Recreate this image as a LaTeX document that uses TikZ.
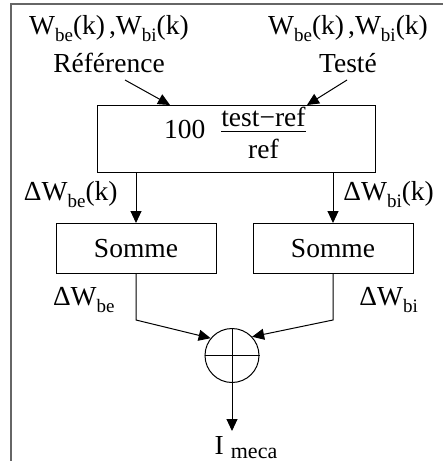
\documentclass[tikz,border=0pt]{standalone}
\usepackage{amsmath}
\usepackage{fontspec}
\setmainfont{Liberation Serif}
\usetikzlibrary{arrows.meta,positioning}

\newcommand{\lo}[1]{\raisebox{-3.5pt}{\fontsize{9.5}{11}\selectfont #1}}

\begin{document}
\begin{tikzpicture}[
    x=0.5pt, y=-0.5pt,
    font=\fontsize{13.75}{19}\selectfont,
    block/.style={rectangle, draw, line width=0.5pt, inner sep=0pt},
    calcbox/.style={block, minimum width=139pt, minimum height=33.5pt},
    sumbox/.style={block, minimum width=80pt, minimum height=25pt},
    adder/.style={circle, draw, line width=0.5pt, minimum size=27pt, inner sep=0pt},
    lbl/.style={inner sep=0pt, align=center},
    arrow/.style={-{Triangle[length=6pt, width=5.5pt]}, line width=0.5pt},
    frame/.style={draw=black!60, line width=0.75pt}
]
    \useasboundingbox (0,0) rectangle (443,461);
    \draw[frame] (11,461) |- (443,4);

    \node[calcbox] (calc) at (236,139) {100\hspace{6.8pt}$\genfrac{}{}{0.6pt}{0}{\raisebox{-3.8pt}[0pt][0pt]{test−ref}}{\text{ref}}$};

    \node[lbl, above=16pt of calc, xshift=-63.5pt] (refin) {W\lo{be}(k)\kern2pt,W\lo{bi}(k)\\Référence};
    \node[lbl, above=16pt of calc, xshift=56pt] (testin) {W\lo{be}(k)\kern2pt,W\lo{bi}(k)\\Testé};

    \node[sumbox, below=25pt of calc, xshift=-50pt] (sumbe) {Somme};
    \node[sumbox, below=25pt of calc, xshift=48.5pt] (sumbi) {Somme};

    \node[lbl, left=9pt of sumbe.north, yshift=14pt] (dbek) {ΔW\lo{be}(k)};
    \node[lbl, right=5pt of sumbi.north, yshift=14pt] (dbik) {ΔW\lo{bi}(k)};
    \node[lbl, left=10.5pt of sumbe.south, yshift=-13pt] (dbe) {ΔW\lo{be}};
    \node[lbl, right=13pt of sumbi.south, yshift=-13pt] (dbi) {ΔW\lo{bi}};

    \node[adder, below=77.5pt of calc, xshift=-2pt] (adder) {};
    \draw (adder.north) -- (adder.south);
    \draw (adder.west) -- (adder.east);

    \node[lbl, below=26.5pt of adder, xshift=7pt] (imeca) {I\kern3.5pt\raisebox{-2pt}{\fontsize{11}{13}\selectfont meca}};

    \draw[arrow] ([xshift=8pt, yshift=-3.5pt]refin.south) -- ([xshift=-33pt]calc.north);
    \draw[arrow] ([xshift=-0.5pt, yshift=-3.5pt]testin.south) -- ([xshift=35.5pt]calc.north);
    \draw[arrow] (sumbe.north |- calc.south) -- (sumbe.north);
    \draw[arrow] (sumbi.north |- calc.south) -- (sumbi.north);
    \draw[arrow] (sumbe.south) -- ++(0,-23pt) -- (adder.141);
    \draw[arrow] (sumbi.south) -- ++(0,-23pt) -- (adder.43);
    \draw[arrow] (adder.south) -- ([yshift=2.5pt]adder.south |- imeca.north);
\end{tikzpicture}
\end{document}
